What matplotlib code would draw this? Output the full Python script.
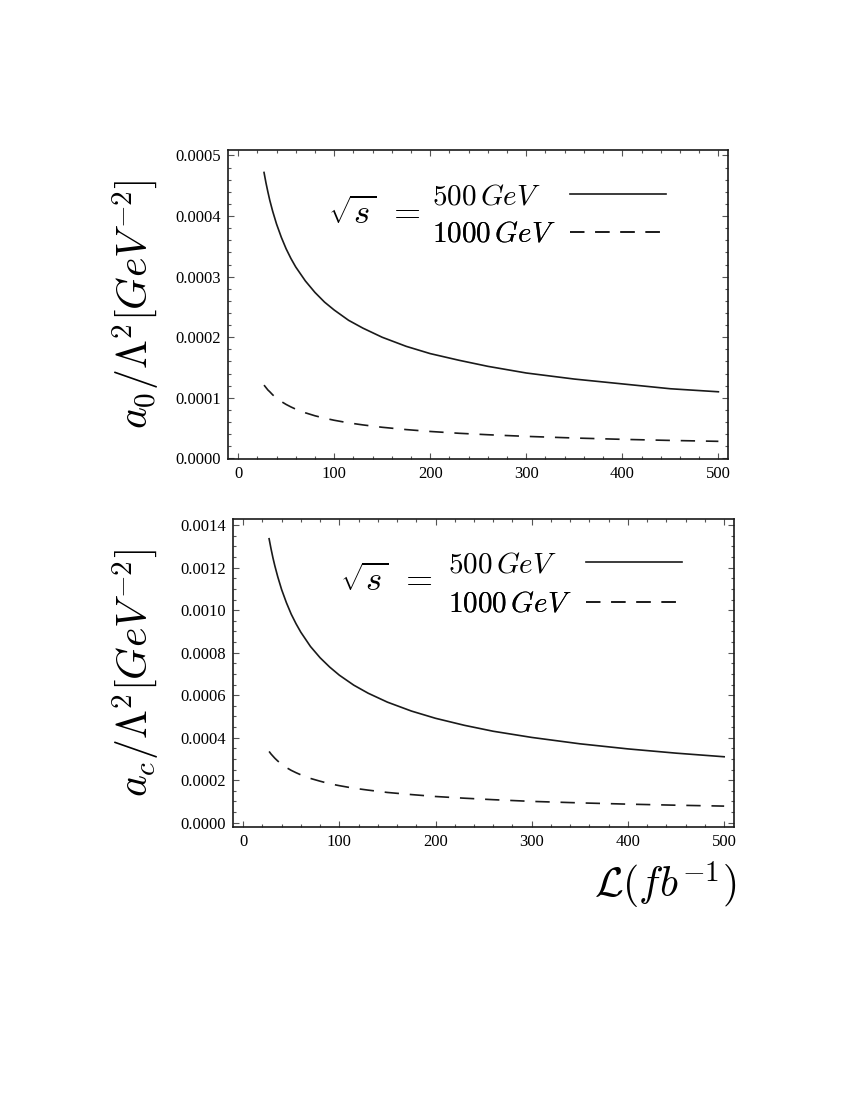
"""
Bounds on a0 and ac versus integrated luminosity
"""

import numpy as np
import matplotlib.pyplot as plt
from matplotlib.ticker import MultipleLocator, FormatStrFormatter
from matplotlib.lines import Line2D

plt.rcParams['mathtext.fontset'] = 'cm'
plt.rcParams['font.family'] = 'Liberation Serif'

# luminosity points (fb^-1)
lumi = [27, 29, 31, 33, 36, 40, 45, 50, 55, 60, 70, 80, 90, 100, 115, 130,
        150, 175, 200, 230, 260, 300, 350, 400, 450, 500]

# a0 / Lambda^2 bounds
a0_500 = [0.000472, 0.000455, 0.000440, 0.000426, 0.000408, 0.000387, 0.000365,
          0.000346, 0.000330, 0.000316, 0.000293, 0.000274, 0.000258, 0.000245,
          0.000228, 0.000215, 0.000200, 0.000185, 0.000173, 0.000162, 0.000152,
          0.000141, 0.000131, 0.000123, 0.000115, 0.000110]
a0_1000 = [0.000121, 0.000117, 0.000113, 0.000110, 0.000105, 0.0000996,
           0.0000939, 0.0000891, 0.0000850, 0.0000813, 0.0000753, 0.0000704,
           0.0000664, 0.0000630, 0.0000587, 0.0000553, 0.0000514, 0.0000476,
           0.0000445, 0.0000415, 0.0000391, 0.0000364, 0.0000337, 0.0000315,
           0.0000297, 0.0000282]

# ac / Lambda^2 bounds
ac_500 = [0.001336, 0.001289, 0.001246, 0.001208, 0.001157, 0.001097, 0.001035,
          0.000981, 0.000936, 0.000896, 0.000829, 0.000776, 0.000732, 0.000694,
          0.000647, 0.000609, 0.000567, 0.000525, 0.000491, 0.000458, 0.000430,
          0.000401, 0.000371, 0.000347, 0.000327, 0.000310]
ac_1000 = [0.000335, 0.000323, 0.000313, 0.000303, 0.000290, 0.000275, 0.000259,
           0.000246, 0.000235, 0.000225, 0.000208, 0.000195, 0.000183, 0.000174,
           0.000162, 0.000153, 0.000142, 0.000132, 0.000123, 0.000115, 0.000108,
           0.000100, 0.0000930, 0.0000870, 0.0000820, 0.0000778]

energies = [r'$500\,GeV$', r'$1000\,GeV$']

fig = plt.figure(figsize=(8.5, 11), dpi=100)
ax1 = fig.add_axes([0.2679, 0.5827, 0.5889, 0.2809])
ax2 = fig.add_axes([0.2738, 0.2479, 0.5898, 0.2803])

dash = (0, (8.6, 6.5))
styles = ['-', dash]
# 500 row gets one extra digit width of gap so both lines start together
textpads = [1.0, 0.5]

# ax, series, ylabel, ylim, major, minor, label x, legend x, row ys, sqrt(s) pos
panels = [
    (ax1, a0_500, a0_1000, r'$a_0/\Lambda^2[GeV^{-2}]$', (-0.000001, 0.000509),
     0.0001, 0.00002, -0.131, 0.385, [0.847, 0.726], (0.2, 0.788)),
    (ax2, ac_500, ac_1000, r'$a_c/\Lambda^2[GeV^{-2}]$', (-0.000022, 0.001429),
     0.0002, 0.00005, -0.141, 0.406, [0.851, 0.722], (0.214, 0.794)),
]

for ax, y5, y10, lab, ylim, ymaj, ymin, lx, legx, rows, spos in panels:
    ax.plot(lumi, y5, color='#1a1a1a', lw=1.2)
    ax.plot(lumi, y10, color='#1a1a1a', lw=1.2, linestyle=dash)
    ax.set_xlim(-10.8, 510.3)
    ax.set_ylim(*ylim)
    ax.xaxis.set_major_locator(MultipleLocator(100))
    ax.xaxis.set_minor_locator(MultipleLocator(20))
    ax.yaxis.set_major_locator(MultipleLocator(ymaj))
    ax.yaxis.set_minor_locator(MultipleLocator(ymin))
    ax.yaxis.set_major_formatter(FormatStrFormatter('%.4f'))
    ax.tick_params(which='both', direction='in', top=True, right=True,
                   labelsize=12, width=0.8, color='#555555')
    ax.tick_params(which='major', length=4.3, pad=5)
    ax.tick_params(which='minor', length=2.5)
    for s in ax.spines.values():
        s.set_linewidth(1.2)
        s.set_color('#1a1a1a')
    ax.set_ylabel(lab, fontsize=30)
    ax.yaxis.set_label_coords(lx, 0.5)

    # one legend per row so the texts stay left aligned
    for lbl, ls, tp, ry in zip(energies, styles, textpads, rows):
        h = Line2D([], [], color='#1a1a1a', lw=1.2, linestyle=ls)
        leg = ax.legend([h], [lbl], loc='center left', bbox_to_anchor=(legx, ry),
                        frameon=False, markerfirst=False, fontsize=21,
                        handlelength=3.3, handletextpad=tp, borderaxespad=0)
        ax.add_artist(leg)
    ax.text(spos[0], spos[1], r'$\sqrt{s}\;\,=$', transform=ax.transAxes,
            fontsize=25, ha='left', va='center')

fig.text(0.866, 0.195, r'$\mathcal{L}(fb^{-1})$', fontsize=30,
         ha='right', va='center')

plt.savefig('out.png', dpi=100)
